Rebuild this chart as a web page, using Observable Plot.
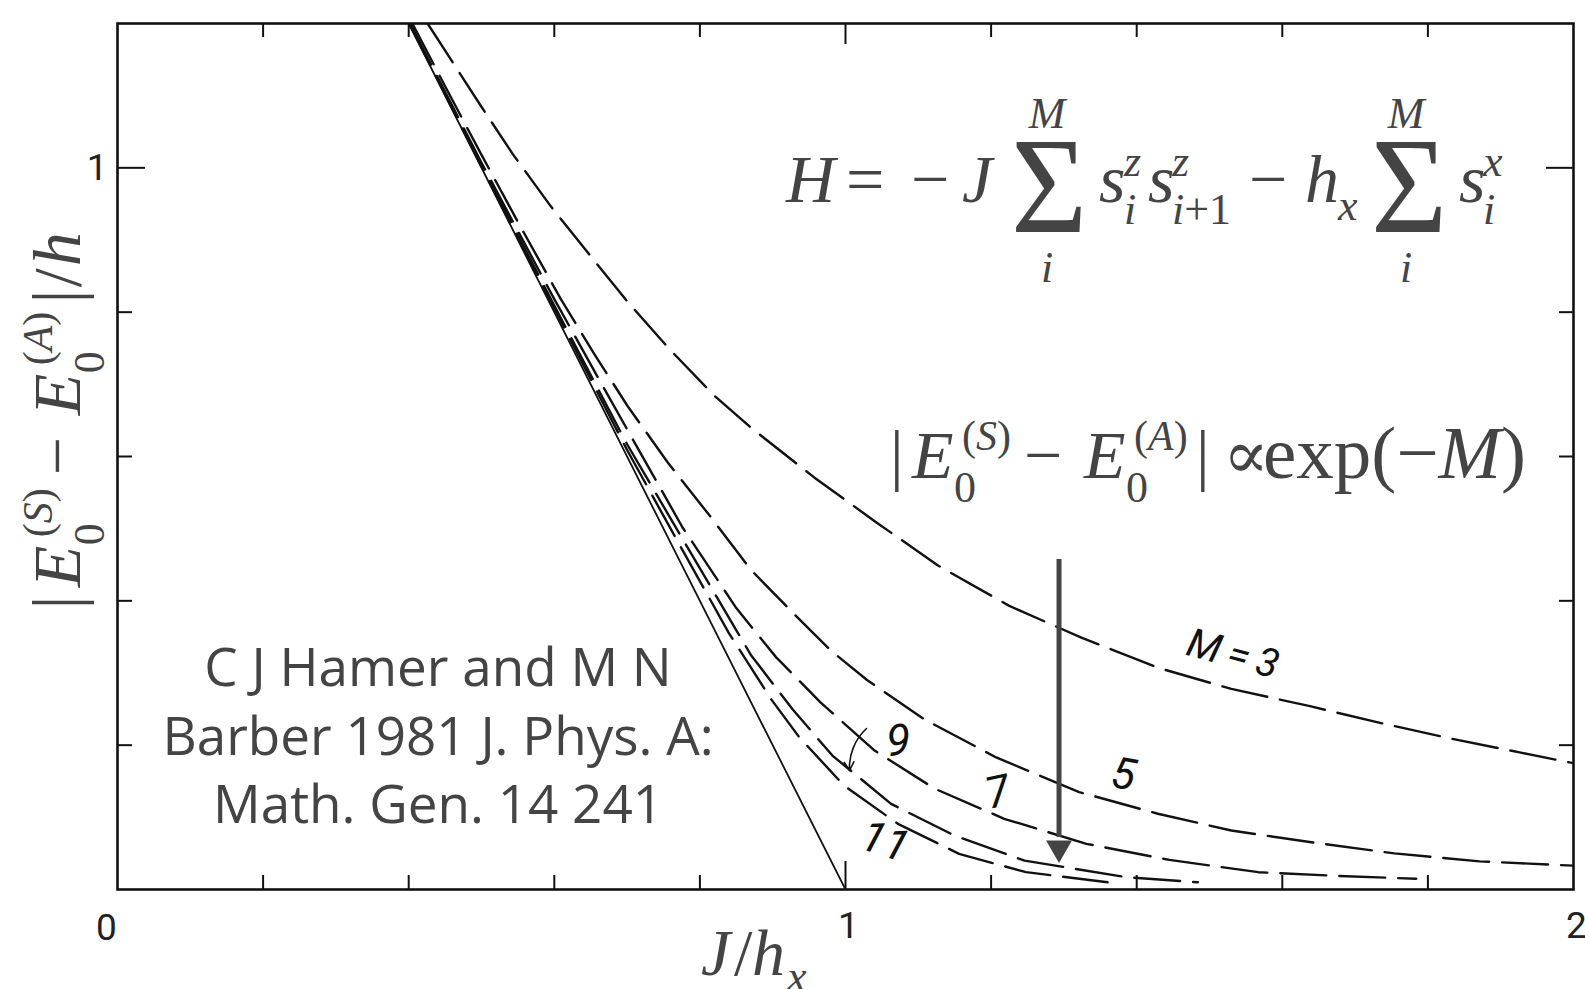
<!DOCTYPE html>
<html>
<head>
<meta charset="utf-8">
<script src="https://cdn.jsdelivr.net/npm/d3@7"></script>
<script src="https://cdn.jsdelivr.net/npm/@observablehq/plot@0.6"></script>
<style>
  html, body { margin: 0; padding: 0; background: #fff; }
  #chart svg { display: block; }
</style>
</head>
<body>
<div id="chart"></div>
<script>
// Energy splitting of the two lowest levels of the transverse Ising chain,
// |E0(S) - E0(A)| / h, against J/h_x for chains of M sites (Hamer & Barber 1981).

const m3x = [0.426, 0.499, 0.543, 0.595, 0.648, 0.701, 0.758, 0.820, 0.870, 0.957, 1.042, 1.127, 1.225, 1.324, 1.430, 1.530, 1.638, 1.738, 1.832, 1.926, 2.0];
const m3y = [1.2, 1.086, 1.019, 0.947, 0.880, 0.814, 0.749, 0.684, 0.640, 0.571, 0.509, 0.449, 0.393, 0.349, 0.307, 0.278, 0.254, 0.230, 0.209, 0.190, 0.175];

const m5x = [0.405, 0.45, 0.5, 0.55, 0.609, 0.655, 0.7006, 0.7556, 0.815, 0.870, 0.934, 0.980, 1.030, 1.108, 1.207, 1.321, 1.429, 1.530, 1.640, 1.754, 1.871, 2.0];
const m5y = [1.2, 1.113, 1.018, 0.925, 0.818, 0.742, 0.670, 0.592, 0.516, 0.443, 0.377, 0.331, 0.290, 0.236, 0.183, 0.135, 0.105, 0.0817, 0.0655, 0.050, 0.039, 0.033];

const m7x = [0.402, 0.5, 0.6, 0.673, 0.72, 0.776, 0.85, 0.9045, 0.966, 1.040, 1.122, 1.218, 1.331, 1.445, 1.567, 1.672, 1.784];
const m7y = [1.2, 1.007, 0.818, 0.686, 0.602, 0.502, 0.390, 0.322, 0.259, 0.1925, 0.140, 0.098, 0.0633, 0.041, 0.024, 0.019, 0.0148];

const m9x = [0.401, 0.5, 0.6, 0.7, 0.783, 0.87, 0.927, 0.982, 1.0626, 1.1496, 1.246, 1.386, 1.484];
const m9y = [1.2, 1.004, 0.809, 0.617, 0.474, 0.325, 0.250, 0.1856, 0.1187, 0.0748, 0.040, 0.017, 0.010];

const m11x = [0.401, 0.5, 0.6, 0.7, 0.774, 0.84, 0.8976, 0.9365, 0.998, 1.072, 1.156, 1.248, 1.360];
const m11y = [1.2, 1.002, 0.805, 0.609, 0.474, 0.355, 0.264, 0.211, 0.144, 0.091, 0.0494, 0.024, 0.010];

// bulk gap of the infinite chain, 2(1 - J/h_x)
const bulkX = [0.4, 1.0];
const bulkY = [1.2, 0.0];

// curve labels
const labelText = ["M\u2009=\u20093", "5", "7", "9", "11"];
const labelX = [1.532, 1.382, 1.209, 1.072, 1.054];
const labelY = [0.326, 0.159, 0.134, 0.205, 0.066];
const labelAngle = [15, 10, -12, 0, 18];
const labelSize = [40, 44, 44, 44, 44];

// ticks
const xMinor = [0.2, 0.4, 0.6, 0.8, 1.2, 1.4, 1.6, 1.8];
const xMajor = [1];
const yMinor = [0.2, 0.4, 0.6, 0.8];
const yMajor = [1];
const xLabelLeft = [0];
const xLabelRest = [1, 2];
const yLabels = [1];

// exp(-M) arrow
const arrowX = [1.2933];
const arrowTop = [0.4573];
const arrowShaftEnd = [0.072];
const arrowHeadY = [0.0574];

// pointer from the "9" label
const ptrX1 = [1.0288], ptrY1 = [0.2231], ptrX2 = [1.0055], ptrY2 = [0.1649];

const curves = [
  {M: 3, xs: m3x, ys: m3y},
  {M: 5, xs: m5x, ys: m5y},
  {M: 7, xs: m7x, ys: m7y},
  {M: 9, xs: m9x, ys: m9y},
  {M: 11, xs: m11x, ys: m11y}
];
const curveRows = curves.flatMap(c => c.xs.map((x, i) => ({M: c.M, x, y: c.ys[i]})));
const bulkRows = bulkX.map((x, i) => ({x, y: bulkY[i]}));
const labelRows = labelText.map((t, i) => ({t, x: labelX[i], y: labelY[i], a: labelAngle[i], s: labelSize[i]}));

const ink = "#444";
const lineInk = "#111";
const serif = "'Liberation Serif', 'DejaVu Serif', serif";
const sans = "Roboto, 'Liberation Sans', sans-serif";

// Write math pieces into a group: each piece is [runs, dx, dy, size, anchor]
// where a run starting with "*" is set in italic.
function drawPieces(g, pieces) {
  for (const p of pieces) {
    if (p.sigma) {
      g.append("text")
        .attr("transform", `translate(${p.dx},${p.dy}) scale(0.95,1)`)
        .attr("font-size", p.size)
        .attr("text-anchor", "start")
        .text("Σ");
      continue;
    }
    const [content, dx, dy, size, anchor = "start"] = p;
    const t = g.append("text")
      .attr("x", dx).attr("y", dy)
      .attr("font-size", size)
      .attr("text-anchor", anchor);
    const runs = Array.isArray(content) ? content : [content];
    for (const r of runs) {
      const italic = r.startsWith("*");
      t.append("tspan")
        .attr("font-style", italic ? "italic" : "normal")
        .text(italic ? r.slice(1) : r);
    }
  }
}

const F = 68, FS = 44, FSUP = 42;

// H = -J Σ s_i^z s_{i+1}^z - h_x Σ s_i^x
const hamiltonian = [
  ["*H", 0, 0, F],
  ["=", 60, 0, F],
  ["−", 125, 0, F],
  ["*J", 176, 0, F],
  {sigma: true, dx: 225, dy: 30, size: 138},
  ["*M", 261, -74, FS, "middle"],
  ["*i", 261, 80, FS, "middle"],
  ["*s", 313, 0, F],
  ["*z", 338, -26, FS],
  ["*i", 338, 22, FS],
  ["*s", 362, 0, F],
  ["*z", 386, -26, FS],
  [["*i", "+1"], 386, 22, FS],
  ["−", 463, 0, F],
  ["*h", 519, 0, F],
  ["*x", 552, 18, FS],
  {sigma: true, dx: 585, dy: 30, size: 138},
  ["*M", 620, -74, FS, "middle"],
  ["*i", 620, 80, FS, "middle"],
  ["*s", 673, 0, F],
  ["*x", 697, -26, FS],
  ["*i", 697, 22, FS]
];

// |E0(S) - E0(A)| pieces shared by the scaling law and the y-axis title
const splitting = [
  ["|", 0, 0, F],
  ["*E", 22, 0, F],
  [["(", "*S", ")"], 72, -28, FSUP],
  ["0", 64, 24, FS],
  ["−", 134, 0, F],
  ["*E", 194, 0, F],
  [["(", "*A", ")"], 244, -28, FSUP],
  ["0", 236, 24, FS],
  ["|", 306, 0, F]
];
const scaling = [...splitting, ["∝", 333, 0, F], [["exp(−", "*M", ")"], 373, 0, 75]];
const yTitle = [...splitting, ["/", 322, 0, F], ["*h", 343, 0, F]];
const xTitle = [["*J", 0, 0, 66], ["/", 33, 0, 66], ["*h", 51, 0, 66], ["*x", 86, 16, FS]];

const citation = ["C J Hamer and M N", "Barber 1981 J. Phys. A:", "Math. Gen. 14 241"];

function mathMark(place, pieces, rotate = 0) {
  return (index, scales) => {
    const [x0, y0] = place(scales);
    const g = d3.create("svg:g")
      .attr("transform", `translate(${x0},${y0}) rotate(${rotate})`)
      .attr("fill", ink)
      .attr("font-family", serif)
      .attr("text-anchor", "start");
    drawPieces(g, pieces);
    return g.node();
  };
}

function citationMark(index, scales) {
  const g = d3.create("svg:g")
    .attr("fill", ink)
    .attr("font-family", "'Open Sans', 'Noto Sans', sans-serif")
    .attr("font-size", 53)
    .attr("text-anchor", "middle");
  const cx = scales.x(0.441);
  const y0 = scales.y(0.281);
  citation.forEach((line, i) => {
    g.append("text").attr("x", cx).attr("y", y0 + i * 68.5).text(line);
  });
  return g.node();
}

const tickStyle = {stroke: lineInk, strokeWidth: 2, tickFormat: () => "", label: null};
const tickLabelStyle = {tickSize: 0, fontSize: 37, fill: "#222", label: null, fontFamily: sans,
  tickFormat: d => String(d)};

const chart = Plot.plot({
  width: 1585,
  height: 989,
  marginLeft: 117,
  marginRight: 12,
  marginTop: 23,
  marginBottom: 100,
  x: {domain: [0, 2]},
  y: {domain: [0, 1.2]},
  style: {background: "#fff", fontFamily: sans},
  marks: [
    // inward ticks on all four sides
    Plot.axisX(xMinor, {...tickStyle, anchor: "bottom", tickSize: -14}),
    Plot.axisX(xMajor, {...tickStyle, anchor: "bottom", tickSize: -28}),
    Plot.axisX(xMinor, {...tickStyle, anchor: "top", tickSize: -13}),
    Plot.axisX(xMajor, {...tickStyle, anchor: "top", tickSize: -20}),
    Plot.axisY(yMinor, {...tickStyle, anchor: "left", tickSize: -15}),
    Plot.axisY(yMajor, {...tickStyle, anchor: "left", tickSize: -28}),
    Plot.axisY(yMinor, {...tickStyle, anchor: "right", tickSize: -15}),
    Plot.axisY(yMajor, {...tickStyle, anchor: "right", tickSize: -28}),
    // tick labels
    Plot.axisX(xLabelLeft, {...tickLabelStyle, anchor: "bottom", tickPadding: 24, dx: -11}),
    Plot.axisX(xLabelRest, {...tickLabelStyle, anchor: "bottom", tickPadding: 22, dx: 3}),
    Plot.axisY(yLabels, {...tickLabelStyle, anchor: "left", tickPadding: 10}),
    // curves
    Plot.line(bulkRows, {x: "x", y: "y", stroke: lineInk, strokeWidth: 1.8, clip: true}),
    Plot.line(curveRows, {x: "x", y: "y", z: "M", stroke: lineInk, strokeWidth: 2.4,
      strokeDasharray: "46,13", clip: true}),
    Plot.frame({stroke: lineInk, strokeWidth: 2.6}),
    // curve labels
    Plot.text(labelRows, {x: "x", y: "y", text: "t", rotate: "a", fontSize: "s",
      fontStyle: "italic", fill: lineInk, fontFamily: sans}),
    Plot.arrow([0], {x1: () => ptrX1[0], y1: () => ptrY1[0], x2: () => ptrX2[0], y2: () => ptrY2[0],
      bend: -25, headLength: 9, stroke: lineInk, strokeWidth: 1.6}),
    // exp(-M) arrow
    Plot.ruleX(arrowX, {y1: arrowTop[0], y2: arrowShaftEnd[0], stroke: ink, strokeWidth: 5}),
    Plot.dot(arrowX, {x: d => d, y: arrowHeadY[0], symbol: "triangle", r: 9.6, rotate: 180,
      fill: ink, stroke: "none"}),
    // formulas, axis titles and reference
    mathMark(s => [s.x(0.919), s.y(0.952)], hamiltonian),
    mathMark(s => [s.x(1.0618), s.y(0.5695)], scaling),
    mathMark(s => [s.x(0) - 37, s.y(0.4) + 9], yTitle, -90),
    mathMark(s => [s.x(1) - 144, s.y(0) + 86], xTitle),
    citationMark
  ]
});

document.getElementById("chart").append(chart);
</script>
</body>
</html>
